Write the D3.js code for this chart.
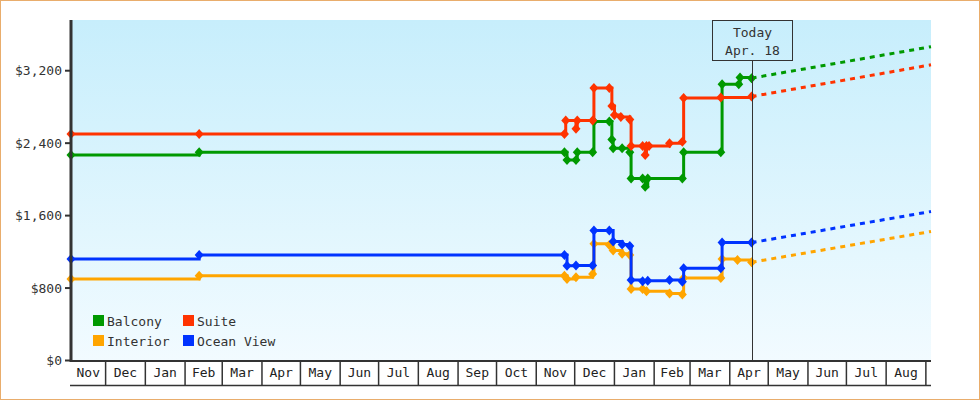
<!DOCTYPE html>
<html><head><meta charset="utf-8">
<script src="https://cdn.jsdelivr.net/npm/d3@7"></script>
<style>
html,body{margin:0;padding:0;background:#fff;}
svg{display:block;}
text{font-family:"DejaVu Sans Mono",monospace;font-size:13px;fill:#333;}
</style></head><body>
<svg id="chart" width="980" height="400"></svg>
<script>
// ---------- data ----------
const seriesNames  = ["Balcony", "Suite", "Interior", "Ocean View"];
const seriesColors = ["#009900", "#ff3300", "#ffa500", "#0033ff"];

const balcony = [
  ["2015-11-04",2270],["2016-02-12",2300],["2016-11-23",2300],["2016-11-25",2215],
  ["2016-12-02",2215],["2016-12-03",2300],["2016-12-15",2300],["2016-12-16",2640],
  ["2016-12-28",2640],["2016-12-30",2440],["2016-12-31",2345],["2017-01-07",2345],
  ["2017-01-13",2300],["2017-01-14",2010],["2017-01-23",2010],["2017-01-25",1920],
  ["2017-01-27",2010],["2017-02-23",2010],["2017-02-24",2300],["2017-03-25",2300],
  ["2017-03-26",3050],["2017-04-08",3050],["2017-04-09",3125],["2017-04-18",3118]
];
const suite = [
  ["2015-11-04",2500],["2016-02-12",2500],["2016-11-23",2500],["2016-11-24",2650],
  ["2016-12-02",2560],["2016-12-03",2650],["2016-12-15",2650],["2016-12-16",3010],
  ["2016-12-28",3010],["2016-12-30",2810],["2017-01-01",2710],["2017-01-06",2690],
  ["2017-01-13",2660],["2017-01-14",2370],["2017-01-23",2370],["2017-01-25",2270],
  ["2017-01-26",2370],["2017-01-28",2370],["2017-02-13",2400],["2017-02-23",2415],
  ["2017-02-24",2900],["2017-03-25",2905],["2017-04-18",2915]
];
const interior = [
  ["2015-11-04",900],["2016-02-12",935],["2016-11-23",935],["2016-11-25",900],
  ["2016-12-02",920],["2016-12-15",955],["2016-12-16",1290],["2016-12-28",1275],
  ["2016-12-31",1215],["2017-01-07",1180],["2017-01-13",1165],["2017-01-14",790],
  ["2017-01-23",790],["2017-01-26",765],["2017-02-13",740],["2017-02-23",730],
  ["2017-02-24",910],["2017-03-25",910],["2017-03-26",1120],["2017-04-07",1110],
  ["2017-04-18",1085]
];
const oceanView = [
  ["2015-11-04",1120],["2016-02-12",1165],["2016-11-23",1165],["2016-11-25",1045],
  ["2016-12-02",1050],["2016-12-15",1050],["2016-12-16",1435],["2016-12-28",1435],
  ["2016-12-31",1315],["2017-01-07",1280],["2017-01-13",1265],["2017-01-14",890],
  ["2017-01-23",875],["2017-01-27",880],["2017-02-13",890],["2017-02-23",870],
  ["2017-02-24",1020],["2017-03-25",1020],["2017-03-26",1302],["2017-04-18",1302]
];
// projections (dashed) from today to the end of the axis
const balconyProj   = [["2017-04-18",3118],["2017-09-05",3465]];
const suiteProj     = [["2017-04-18",2915],["2017-09-05",3265]];
const interiorProj  = [["2017-04-18",1085],["2017-09-05",1425]];
const oceanViewProj = [["2017-04-18",1302],["2017-09-05",1645]];

const yTicks = [0, 800, 1600, 2400, 3200];
const yMax = 3760;
const startDate = "2015-11-04", endDate = "2017-09-05";
const monthLabels = ["Nov","Dec","Jan","Feb","Mar","Apr","May","Jun","Jul","Aug","Sep","Oct",
                     "Nov","Dec","Jan","Feb","Mar","Apr","May","Jun","Jul","Aug"];
const todayDate = "2017-04-18";
const todayLabel = ["Today", "Apr. 18"];

// ---------- drawing ----------
const parse = d3.timeParse("%Y-%m-%d");
const svg = d3.select("#chart");
const L = 71, R = 931, T = 20, B = 360.5;

const x = d3.scaleTime().domain([parse(startDate), parse(endDate)]).range([L, R]);
const y = d3.scaleLinear().domain([0, yMax]).range([B, T]);

// outer frame
svg.append("rect").attr("x",0.5).attr("y",0.5).attr("width",979).attr("height",399)
  .attr("fill","#fff").attr("stroke","#e9ad6c").attr("stroke-width",1);

// background gradient
const defs = svg.append("defs");
const g = defs.append("linearGradient").attr("id","bg").attr("x1",0).attr("y1",0).attr("x2",0).attr("y2",1);
g.append("stop").attr("offset","0%").attr("stop-color","#c7eefc");
g.append("stop").attr("offset","100%").attr("stop-color","#f2fbff");
svg.append("rect").attr("x",L).attr("y",T).attr("width",R-L).attr("height",B-T).attr("fill","url(#bg)");

// month boxes on x axis
const months = d3.timeMonth.range(d3.timeMonth.floor(parse(startDate)), parse(endDate));
const xg = svg.append("g");
months.forEach((m, i) => {
  const s = Math.max(x(m), L);
  const nextM = d3.timeMonth.offset(m, 1);
  if (nextM > parse(endDate)) return;
  const e = x(nextM);
  xg.append("line").attr("x1",e).attr("x2",e).attr("y1",361).attr("y2",385.5)
    .attr("stroke","#333").attr("stroke-width",1.5);
  xg.append("text").attr("x",(s+e)/2).attr("y",377).attr("text-anchor","middle")
    .style("fill","#222").text(monthLabels[i]);
});
xg.append("line").attr("x1",L-1).attr("x2",R).attr("y1",385.5).attr("y2",385.5)
  .attr("stroke","#333").attr("stroke-width",1.5);

// series
const allSeries = [
  {data: balcony, proj: balconyProj},
  {data: suite, proj: suiteProj},
  {data: interior, proj: interiorProj},
  {data: oceanView, proj: oceanViewProj}
];
const line = d3.line().x(d => x(parse(d[0]))).y(d => y(d[1])).curve(d3.curveStepAfter);
const lineLin = d3.line().x(d => x(parse(d[0]))).y(d => y(d[1]));
const diamond = {draw(ctx, size){ ctx.moveTo(0,-5); ctx.lineTo(4.5,0); ctx.lineTo(0,5); ctx.lineTo(-4.5,0); ctx.closePath(); }};
const sym = d3.symbol().type(diamond);

allSeries.forEach((s, i) => {
  const c = seriesColors[i];
  const gs = svg.append("g");
  gs.append("path").attr("d", lineLin(s.proj)).attr("fill","none").attr("stroke",c)
    .attr("stroke-width",3).attr("stroke-dasharray","5,5");
  gs.append("path").attr("d", line(s.data)).attr("fill","none").attr("stroke",c)
    .attr("stroke-width",3);
  gs.selectAll("path.pt").data(s.data).join("path").attr("class","pt")
    .attr("d", sym())
    .attr("transform", d => `translate(${x(parse(d[0]))},${y(d[1])})`)
    .attr("fill", c);
});

// y axis
const yg = svg.append("g");
yg.append("line").attr("x1",L).attr("x2",L).attr("y1",T).attr("y2",362)
  .attr("stroke","#333").attr("stroke-width",3);
const fmt = d3.format("$,.0f");
yTicks.forEach(t => {
  yg.append("line").attr("x1",65).attr("x2",L).attr("y1",y(t)).attr("y2",y(t))
    .attr("stroke","#333").attr("stroke-width",2);
  yg.append("text").attr("x",62).attr("y",y(t)).attr("dy","0.35em")
    .attr("text-anchor","end").text(fmt(t));
});
// x axis line
svg.append("line").attr("x1",L-1).attr("x2",R).attr("y1",361).attr("y2",361)
  .attr("stroke","#333").attr("stroke-width",2);

// today marker
const tx = Math.round(x(parse(todayDate))) + 0.5;
svg.append("line").attr("x1",tx).attr("x2",tx).attr("y1",60.5).attr("y2",360)
  .attr("stroke","#333").attr("stroke-width",1);
svg.append("rect").attr("x",tx-40).attr("y",20.5).attr("width",80).attr("height",40)
  .attr("fill","none").attr("stroke","#333").attr("stroke-width",1);
svg.append("text").attr("x",tx).attr("y",37).attr("text-anchor","middle").text(todayLabel[0]);
svg.append("text").attr("x",tx).attr("y",55).attr("text-anchor","middle").text(todayLabel[1]);

// legend
const legPos = [[93,315],[183,315],[93,335],[183,335]];
seriesNames.forEach((n, i) => {
  const [lx, ly] = legPos[i];
  svg.append("rect").attr("x",lx).attr("y",ly).attr("width",11).attr("height",11).attr("fill",seriesColors[i]);
  svg.append("text").attr("x",lx+14).attr("y",ly+11).text(n);
});
</script>
</body></html>
